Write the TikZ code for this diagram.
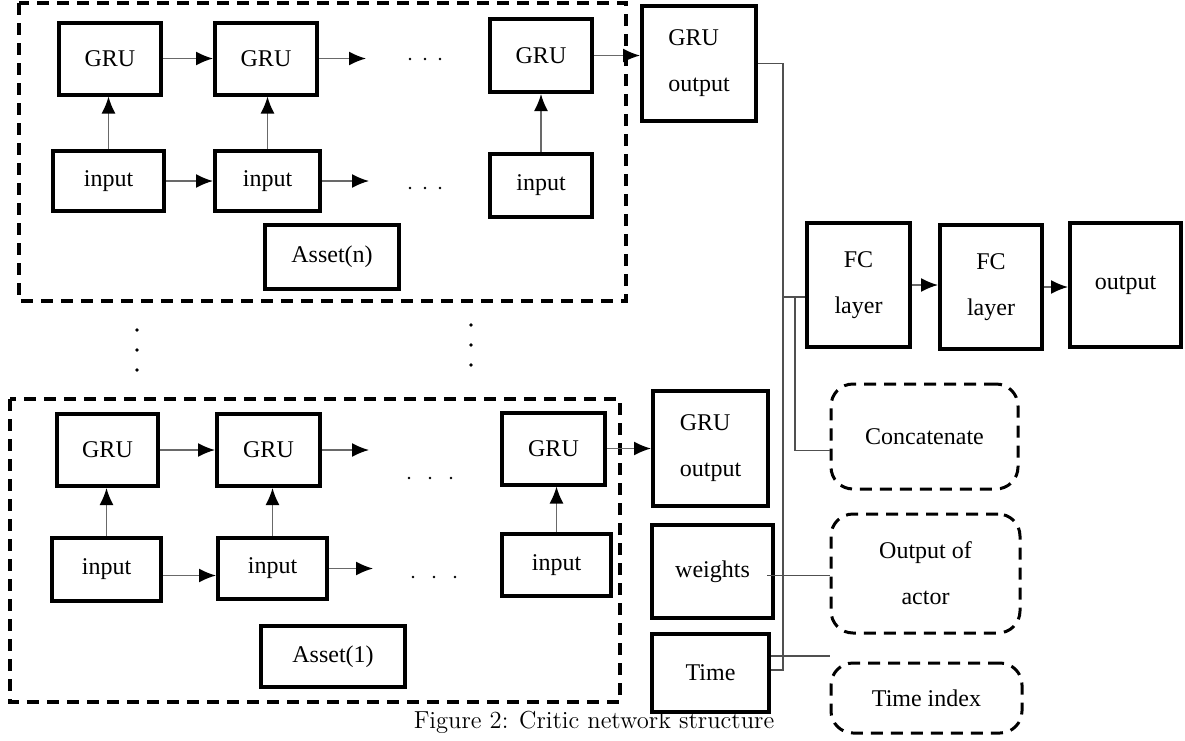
\documentclass[tikz,border=0pt]{standalone}
\usepackage{fontspec}
\newfontfamily\tnr{Liberation Serif}
\usetikzlibrary{arrows.meta}
\definecolor{shaftgray}{RGB}{105,105,105}
\definecolor{wiregray}{RGB}{80,80,80}
\tikzset{
  sz/.style args={#1/#2}{minimum width=#1*0.5pt, minimum height=#2*0.5pt},
  blk/.style={draw, line width=2pt, inner sep=0pt, align=center,
    font=\tnr\fontsize{12}{23}\selectfont},
  cloud/.style={draw, line width=1.5pt, dash pattern=on 6pt off 4pt,
    rounded corners=11pt, inner sep=0pt, align=center,
    font=\tnr\fontsize{12}{23}\selectfont},
  grp/.style={draw, line width=2pt, dash pattern=on 6pt off 4pt},
  fwd/.style={draw=shaftgray, line width=0.8pt,
    -{Latex[black,length=8.5pt,width=7pt]}},
  wire/.style={draw=wiregray, line width=0.6pt},
}
\begin{document}
\begin{tikzpicture}[x=0.5pt,y=0.5pt,yscale=-1,xscale=1]
\useasboundingbox (0,0) rectangle (1185,740);

%Shape: Rectangle (asset n frame)
\draw [grp] (19,3) rectangle (626,301) ;
%Shape: Rectangle (asset 1 frame)
\draw [grp] (10,399) rectangle (620,702) ;

%Asset(n) row
\node [blk, sz=102/72] (gA1) at (110,58.5) {GRU};
\node [blk, sz=102/72] (gA2) at (266,58.5) {GRU};
\node [blk, sz=102/73] (gA3) at (541,55.5) {GRU};
\node [blk, sz=111/60] (iA1) at (108.5,181) {input};
\node [blk, sz=105/60] (iA2) at (267.5,181) {input};
\node [blk, sz=102/63] (iA3) at (541,185.5) {input};
\node [blk, sz=134/64] (assetN) at (332,257) {Asset(n)};
\coordinate (eA1) at (366,56);
\coordinate (eA2) at (369,180);

%Asset(1) row
\node [blk, sz=101/72] (gB1) at (107.5,450) {GRU};
\node [blk, sz=103/72] (gB2) at (268.5,450) {GRU};
\node [blk, sz=103/72] (gB3) at (553.5,448.5) {GRU};
\node [blk, sz=109/63] (iB1) at (106.5,569.5) {input};
\node [blk, sz=109/61] (iB2) at (272.5,568.5) {input};
\node [blk, sz=109/62] (iB3) at (556.5,565) {input};
\node [blk, sz=144/61] (asset1) at (333,656.5) {Asset(1)};
\coordinate (eB1) at (369,453);
\coordinate (eB2) at (373,567);

%Right part
\node [blk, sz=114/115, align=left] (goutA) at (699,63.5) {GRU\\output};
\node [blk, sz=115/115, align=left] (goutB) at (710.5,448.5) {GRU\\output};
\node [blk, sz=121/93] (weights) at (712.5,571.5) {weights};
\node [blk, sz=117/78] (time) at (710.5,673) {Time};
\node [blk, sz=103/124] (fc1) at (858.5,285) {FC\\layer};
\node [blk, sz=102/124] (fc2) at (991,287) {FC\\layer};
\node [blk, sz=111/124] (out) at (1125.5,285) {output};
\node [cloud, sz=187/105] (concat) at (924.5,436.5) {Concatenate};
\node [cloud, sz=189/119] (actor) at (925.5,573.5) {Output of\\actor};
\node [cloud, sz=191/70] (tindex) at (926.5,698) {Time index};
\coordinate (jfc) at (783,297);
\coordinate (jcat) at (795,297);

%Straight Lines (arrows)
\draw [fwd] (gA1.east) -- (gA1.east -| gA2.west);
\draw [fwd] (gA2.east) -- (gA2.east -| eA1);
\draw [fwd] (gA3.east) -- (gA3.east -| goutA.west);
\draw [fwd] (iA1.east) -- (iA1.east -| iA2.west);
\draw [fwd] (iA2.east) -- (iA2.east -| eA2);
\draw [fwd] (gB1.east) -- (gB1.east -| gB2.west);
\draw [fwd] (gB2.east) -- (gB2.east -| eB1);
\draw [fwd] (gB3.east) -- (gB3.east -| goutB.west);
\draw [fwd] ([yshift=3pt]iB1.east) -- ([yshift=3pt]iB1.east -| iB2.west);
\draw [fwd] (iB2.east) -- (iB2.east -| eB2);
\foreach \n in {A1,A2,A3,B1,B2,B3}
  \draw [fwd] (i\n.north) -- (i\n.north |- g\n.south);
\draw [fwd] (fc1.east) -- (fc1.east -| fc2.west);
\draw [fwd] (fc2.east) -- (fc2.east -| out.west);

%Straight Lines (wires)
\draw [wire] (goutA.east) -| (jfc) -- (jfc -| fc1.west);
\draw [wire] (jfc) |- ([yshift=-1.5pt]time.east);
\draw [wire] (jcat) |- ([yshift=7pt]concat.west);
\draw [wire] ([xshift=-4pt,yshift=2pt]weights.east) -- ([yshift=2pt]weights.east -| actor.west);
\draw [wire] ([yshift=-8.5pt]time.east) -- ([yshift=-8.5pt]time.east -| tindex.west);

%Shape: Circle (dots)
\foreach \x in {410,425,440} {
  \fill (\x,59) circle (0.7pt);
  \fill (\x,188) circle (0.7pt);
}
\foreach \x in {409,430,451} \fill (\x,478) circle (0.7pt);
\foreach \x in {413,434,455} \fill (\x,577) circle (0.7pt);
\foreach \y in {330,350,370} \fill (137,\y) circle (0.9pt);
\foreach \y in {325,345,365} \fill (471,\y) circle (0.9pt);

%caption
\node (cap) at (594,722) {\fontsize{12.3}{14}\selectfont Figure 2: Critic network structure};

\end{tikzpicture}
\end{document}
